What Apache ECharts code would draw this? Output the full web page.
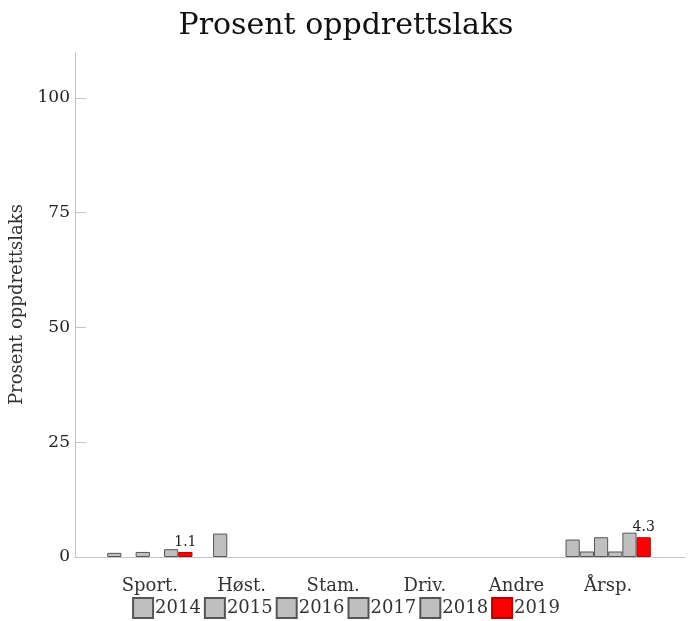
<!DOCTYPE html>
<html>
<head>
<meta charset="utf-8">
<script src="https://cdn.jsdelivr.net/npm/echarts@6/dist/echarts.min.js"></script>
<style>
  html, body { margin: 0; padding: 0; background: #fff; }
  #main { width: 692px; height: 621px; }
</style>
</head>
<body>
<div id="main"></div>
<script>
// data
var categories = ["Sport.", "Høst.", "Stam.", "Driv.", "Andre", "Årsp."];
var years = ["2014", "2015", "2016", "2017", "2018", "2019"];
var v2014 = [0.9, null, null, null, null, 3.8];
var v2015 = [null, 5.1, null, null, null, 1.2];
var v2016 = [1.1, null, null, null, null, 4.3];
var v2017 = [null, null, null, null, null, 1.2];
var v2018 = [1.7, null, null, null, null, 5.3];
var v2019 = [1.1, null, null, null, null, 4.3];
var yTicks = [0, 25, 50, 75, 100];

var values = [v2014, v2015, v2016, v2017, v2018, v2019];
var font = "DejaVu Serif";
var grey = "#bfbfbf";
var axisGrey = "#c4c4c4";

var series = years.map(function (y, i) {
    var last = i === years.length - 1;
    return {
        name: y,
        type: "bar",
        xAxisIndex: 0,
        yAxisIndex: 0,
        data: values[i],
        barGap: "0%",
        barCategoryGap: "7%",
        itemStyle: {
            color: last ? "#ff0000" : grey,
            borderColor: last ? "#b00000" : "#555555",
            borderWidth: 1,
        },
        label: {
            show: last,
            position: "top",
            distance: 3,
            fontFamily: font,
            fontSize: 14,
            color: "#222",
        },
    };
});

var option = {
    animation: false,
    title: {
        text: "Prosent oppdrettslaks",
        left: "center",
        top: 6,
        textStyle: { fontFamily: font, fontSize: 30, fontWeight: "normal", color: "#111" },
    },
    legend: {
        data: years,
        top: 592,
        left: "center",
        icon: "rect",
        itemWidth: 20,
        itemHeight: 20,
        itemGap: 3,
        textStyle: { fontFamily: font, fontSize: 18, color: "#333", padding: [0, 0, 0, -3] },
    },
    grid: [
        { left: 104, right: 38, top: 52, bottom: 64 },
        { left: 75, right: 7, top: 52, bottom: 64 },
    ],
    xAxis: [
        {
            type: "category",
            gridIndex: 0,
            data: categories,
            axisLine: { show: false },
            axisTick: { alignWithLabel: true, length: 11, lineStyle: { color: axisGrey } },
            axisLabel: { fontFamily: font, fontSize: 18, color: "#333", margin: 20 },
        },
        {
            type: "value",
            gridIndex: 1,
            min: 0,
            max: 1,
            axisLine: { show: true, lineStyle: { color: axisGrey } },
            axisTick: { show: false },
            axisLabel: { show: false },
            splitLine: { show: false },
        },
    ],
    yAxis: [
        {
            type: "value",
            gridIndex: 0,
            min: 0,
            max: 110,
            interval: 25,
            offset: 29,
            name: "Prosent oppdrettslaks",
            nameLocation: "middle",
            nameGap: 42,
            nameTextStyle: { fontFamily: font, fontSize: 18, color: "#333" },
            axisLine: { show: true, lineStyle: { color: axisGrey } },
            axisTick: { show: true, inside: true, length: 11, customValues: yTicks, lineStyle: { color: axisGrey } },
            axisLabel: { fontFamily: font, fontSize: 17, color: "#222", margin: 5, customValues: yTicks },
            splitLine: { show: false },
        },
        {
            type: "value",
            gridIndex: 1,
            show: false,
        },
    ],
    series: series,
};

var myChart = echarts.init(document.getElementById("main"));
myChart.setOption(option);
</script>
</body>
</html>
